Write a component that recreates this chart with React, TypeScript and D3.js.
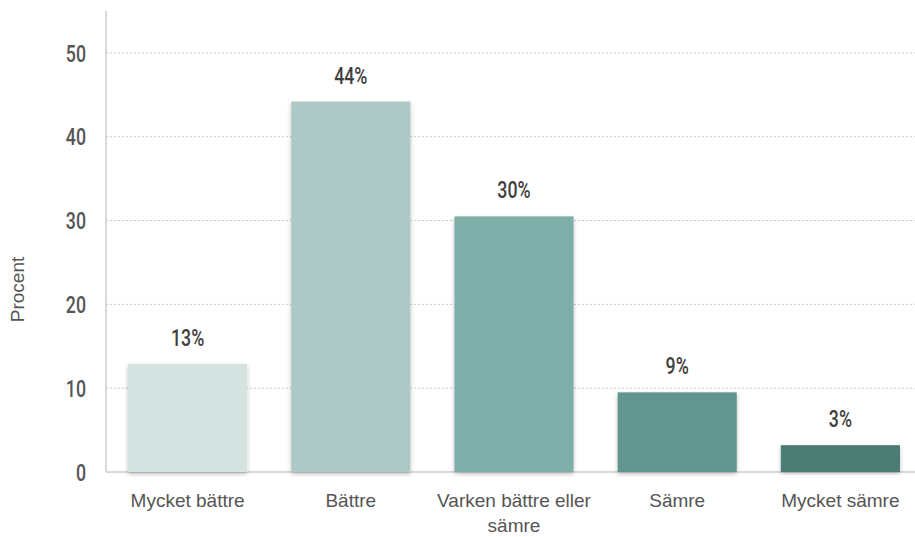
import React from 'react'
import { scaleBand, scaleLinear } from 'd3'

const categories = ['Mycket bättre', 'Bättre', 'Varken bättre eller sämre', 'Sämre', 'Mycket sämre']
const values = [12.9, 44.2, 30.5, 9.5, 3.2]
const valueLabels = ['13%', '44%', '30%', '9%', '3%']
const barColors = ['#d4e3e0', '#adc9c5', '#7fada7', '#60968f', '#4e7b75']
const yTicks = [0, 10, 20, 30, 40, 50]

const W = 915
const H = 537
const left = 106
const top = 11
const bottom = 472

const x = scaleBand<string>().domain(categories).range([left, 922]).paddingInner(0.27).paddingOuter(0.135)
const y = scaleLinear().domain([0, 55]).range([bottom, top])

const condensed = 'Roboto, "DejaVu Sans Condensed", sans-serif'
const plain = '"Liberation Sans", Arial, sans-serif'

const splitLabel = (s: string) => (s === 'Varken bättre eller sämre' ? ['Varken bättre eller', 'sämre'] : [s])

// squeeze text horizontally around its anchor, to fake a condensed face
const squeeze = (cx: number, k: number) => `translate(${cx},0) scale(${k},1) translate(${-cx},0)`

const App = () => {
    return (
        <svg width={W} height={H} style={{ position: 'absolute', left: 0, top: 0 }}>
            <defs>
                <filter id="shadow" x="-10%" y="-10%" width="120%" height="120%">
                    <feDropShadow dx="0" dy="2" stdDeviation="2" floodColor="#000" floodOpacity="0.25" />
                </filter>
            </defs>
            {yTicks.filter(t => t > 0).map(t => (
                <line key={t} x1={left} x2={W} y1={y(t)} y2={y(t)} stroke="#c8c8c8" strokeDasharray="2,2" strokeWidth={1} />
            ))}
            <line x1={left} x2={W} y1={bottom} y2={bottom} stroke="#d9d9d9" strokeWidth={2} />
            <line x1={left} x2={left} y1={top} y2={bottom} stroke="#d9d9d9" strokeWidth={2} />
            {yTicks.map(t => (
                <text key={t} x={86} y={y(t)} dy="0.36em" textAnchor="end" fontFamily={condensed} fontWeight={500} fontSize={24} fill="#555"
                    transform={squeeze(86, 0.74)}>
                    {t}
                </text>
            ))}
            <text transform={`translate(24,${(top + bottom) / 2 + 48}) rotate(-90)`} textAnchor="middle" fontFamily={plain} fontSize={19} fill="#555">
                Procent
            </text>
            {categories.map((c, i) => {
                const cx = (x(c) as number) + x.bandwidth() / 2
                return (
                    <g key={c}>
                        <rect x={x(c)} y={y(values[i])} width={x.bandwidth()} height={bottom - y(values[i])} fill={barColors[i]} filter="url(#shadow)" />
                        <text x={cx} y={y(values[i]) - 18} textAnchor="middle" fontFamily={condensed} fontWeight={500} fontSize={24} fill="#404040"
                            transform={squeeze(cx, 0.74)}>
                            {valueLabels[i]}
                        </text>
                        {splitLabel(c).map((line, j) => (
                            <text key={j} x={cx} y={507 + j * 25} textAnchor="middle" fontFamily={plain} fontSize={19} fill="#555">
                                {line}
                            </text>
                        ))}
                    </g>
                )
            })}
        </svg>
    )
}

export default App
